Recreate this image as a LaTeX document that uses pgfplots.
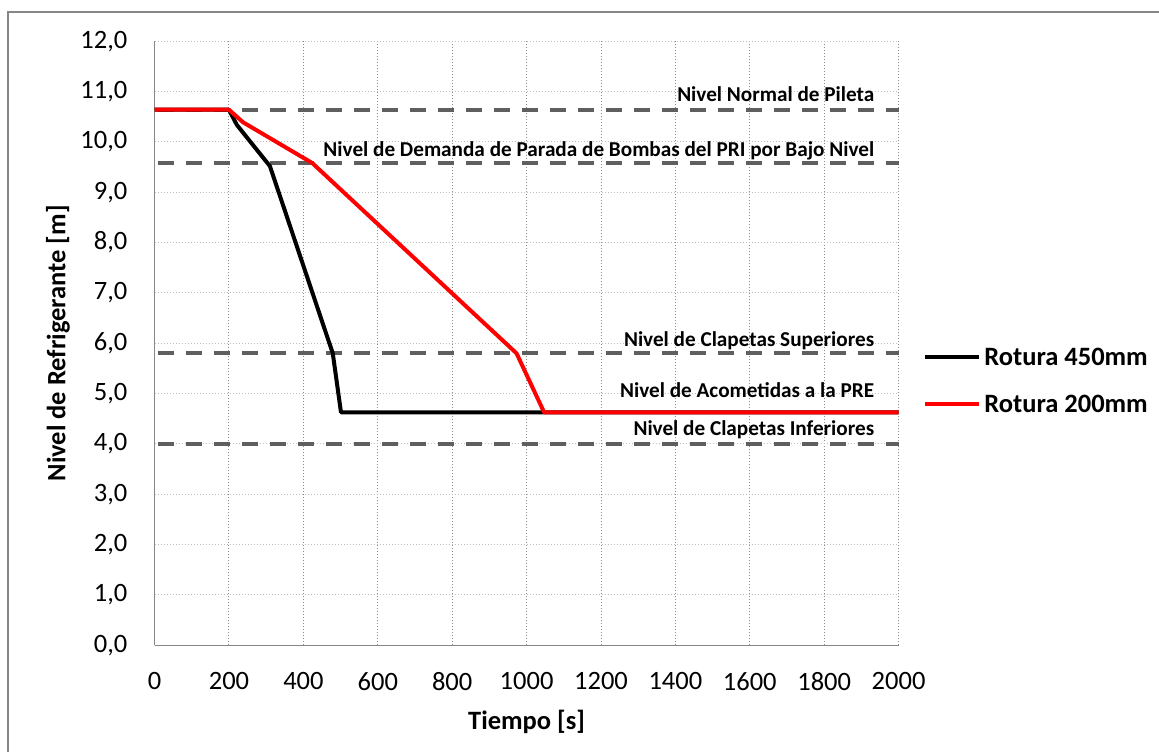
\documentclass[border=0pt]{standalone}
\usepackage{pgfplots}
\pgfplotsset{compat=1.18}
\usepackage{fontspec}
\setmainfont{Carlito}
\definecolor{dashgray}{RGB}{95,95,95}
\definecolor{axgray}{RGB}{134,134,134}
\definecolor{gridgray}{RGB}{140,140,140}
\definecolor{hgrid}{RGB}{190,190,190}
\definecolor{myred}{RGB}{255,0,0}
\begin{document}
\begin{tikzpicture}
\useasboundingbox (-154.6pt,-106.7pt) rectangle (1004.4pt,645.3pt);
\draw[axgray, line width=1.5pt] (-146.6pt,-110pt) -- (-146.6pt,633.3pt) -- (1010pt,633.3pt);
\begin{axis}[
  scale only axis, width=744pt, height=604pt,
  xmin=0, xmax=2000, ymin=0, ymax=12,
  xtick={0,200,...,2000}, ytick={0,1,...,12},
  axis x line*=bottom, axis y line*=left,
  axis line style={axgray, line width=1.5pt, -},
  major tick length=0pt,
  grid=major,
  x grid style={gridgray, line width=1pt, dash pattern=on 1.5pt off 1.5pt},
  y grid style={hgrid, line width=1pt, dash pattern=on 1.5pt off 1.5pt},
  tick label style={font=\fontsize{26.5}{31}\selectfont, inner sep=0pt},
  yticklabel={\pgfmathprintnumber[fixed,fixed zerofill,precision=1,use comma,assume math mode=true]{\tick}},
  xticklabel={\pgfmathprintnumber[fixed,1000 sep={},assume math mode=true]{\tick}},
  yticklabel style={anchor=east, xshift=-27pt},
  xticklabel style={anchor=north, yshift=-27pt},
  every axis y label/.style={at={(axis description cs:-0.130,0.5)}, rotate=90, anchor=center, font=\fontsize{26.5}{31}\selectfont\bfseries},
  every axis x label/.style={at={(axis description cs:0.5,-0.127)}, anchor=center, font=\fontsize{26.5}{31}\selectfont\bfseries},
  xlabel={Tiempo [s]},
  ylabel={Nivel de Refrigerante [m]},
  legend style={at={(axis description cs:1.033,0.4377)}, anchor=west, draw=none, fill=none, inner sep=0pt,
    font=\fontsize{26.5}{31}\selectfont\bfseries, row sep=28pt,
    nodes={inner sep=0pt, anchor=west}},
  legend cell align=left,
  legend image code/.code={\draw[#1] (0pt,0pt) -- (54pt,0pt);},
  clip=false,
]
% reference levels
\addplot[dashgray, line width=4pt, dash pattern=on 16pt off 12pt, forget plot] coordinates {(8,10.64) (2000,10.64)};
\addplot[dashgray, line width=4pt, dash pattern=on 16pt off 12pt, forget plot] coordinates {(8,9.58) (2000,9.58)};
\addplot[dashgray, line width=4pt, dash pattern=on 16pt off 12pt, forget plot] coordinates {(8,5.80) (2000,5.80)};
\addplot[dashgray, line width=4pt, dash pattern=on 16pt off 12pt, forget plot] coordinates {(8,4.00) (2000,4.00)};
% series
\addplot[black, line width=4pt, line join=round] coordinates {
 (0,10.64) (200,10.64) (221,10.34) (310,9.52) (479,5.80) (501,4.63) (2000,4.63)};
\addlegendentry{\hspace{3pt}Rotura 450mm}
\addplot[myred, line width=4pt, line join=round] coordinates {
 (0,10.64) (200,10.64) (238,10.39) (424,9.58) (973,5.80) (1047,4.63) (2000,4.63)};
\addlegendentry{\hspace{3pt}Rotura 200mm}
% level labels
\begin{scope}[every node/.style={anchor=base east, inner sep=0pt, font=\fontsize{21.2}{25}\selectfont\bfseries}]
\node at (axis cs:1935,10.64) [yshift=8pt] {Nivel Normal de Pileta};
\node at (axis cs:1935,9.58) [yshift=7pt] {Nivel de Demanda de Parada de Bombas del PRI por Bajo Nivel};
\node at (axis cs:1935,5.80) [yshift=7pt] {Nivel de Clapetas Superiores};
\node at (axis cs:1935,4.63) [yshift=15pt] {Nivel de Acometidas a la PRE};
\node at (axis cs:1935,4.00) [yshift=8pt] {Nivel de Clapetas Inferiores};
\end{scope}
\end{axis}
\end{tikzpicture}
\end{document}
